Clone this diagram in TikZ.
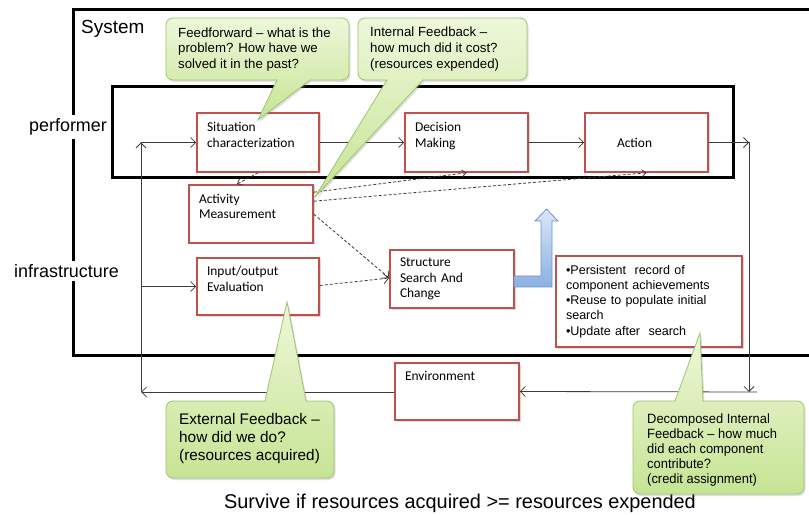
\documentclass[tikz,border=0pt]{standalone}
\usepackage{fontspec}
\setmainfont{Liberation Sans}
\newfontfamily\boxfont{Carlito}
\newfontfamily\narrowfont[FakeStretch=0.96]{Liberation Sans}
\usetikzlibrary{arrows.meta,shadows,calc}
\definecolor{boxred}{RGB}{192,80,77}
\definecolor{cgTop}{RGB}{238,247,218}
\definecolor{cgBot}{RGB}{198,228,148}
\definecolor{cgLine}{RGB}{158,196,108}
\definecolor{blTop}{RGB}{218,230,247}
\definecolor{blBot}{RGB}{138,176,226}
\definecolor{blLine}{RGB}{112,148,202}
\definecolor{lineGray}{RGB}{60,60,60}
\tikzset{
 rbox/.style={draw=boxred, line width=1.6bp, fill=white, align=left, inner xsep=10bp, inner ysep=0pt,
   font=\boxfont\fontsize{13.5}{15.5}\selectfont,
   drop shadow={shadow xshift=1.5bp, shadow yshift=-1.5bp, opacity=0.3}},
 conn/.style={draw=lineGray, line width=0.8bp},
 arr/.style={-{Straight Barb[length=5bp,width=10bp]}},
 sarr/.style={-{Straight Barb[length=4bp,width=7bp]}},
 dashc/.style={draw=lineGray, line width=0.8bp, dash pattern=on 3bp off 2bp},
 framebox/.style={line width=3bp, draw=black},
 bubble/.style={draw=cgLine, line width=0.8bp, top color=cgTop, bottom color=cgBot,
   drop shadow={shadow xshift=1.5bp, shadow yshift=-2bp, opacity=0.25}},
 ctext/.style={align=left, inner sep=0pt, anchor=west, text=black},
 lab/.style={font=\fontsize{18}{20}\selectfont, fill=white, inner sep=4bp},
 bluearrow/.style={draw=blLine, line width=0.8bp, top color=blTop, bottom color=blBot},
}
\begin{document}
\begin{tikzpicture}[x=1bp,y=-1bp]
\useasboundingbox (0,0) rectangle (809,515);
\fill[white] (0,0) rectangle (809,515);

% frames
\draw[framebox] (809,10) -- (73,10) -- (73,355) -- (809,355);
\draw[framebox] (112,87) rectangle (733,178);

% labels
\node[anchor=west, inner sep=0pt, font=\fontsize{19}{21}\selectfont] (sys) at (81,29) {System};
\node[lab] (perf) at (68,127) {performer};
\node[lab, inner sep=3bp] (infra) at (66.5,271) {infrastructure};
\node[font=\fontsize{20}{22}\selectfont] (surv) at (460,503) {Survive if resources acquired >= resources expended};

% boxes
\node[rbox, text width=102bp, minimum height=59bp] (sit) at (258,142.5) {Situation\\characterization\\~};
\node[rbox, text width=103bp, minimum height=59bp] (dec) at (466.5,142.5) {Decision\\Making\\~};
\node[rbox, text width=103bp, minimum height=59bp] (act) at (646.5,142.5) {\hspace*{22bp}Action};
\node[rbox, text width=104bp, minimum height=58bp] (actm) at (251,214) {Activity\\Measurement\\~};
\node[rbox, text width=102bp, minimum height=57bp] (io) at (258,286.5) {Input/output\\Evaluation\\~};
\node[rbox, text width=104bp, minimum height=58bp] (ssc) at (452,279) {Structure\\Search And\\Change};
\node[rbox, text width=166bp, minimum height=91bp, font=\fontsize{12.6}{15.2}\selectfont] (bul) at (649,301.5)
  {•Persistent\ \ record of\\component achievements\\•Reuse to populate initial\\search\\•Update after\ \ search};
\node[rbox, text width=104bp, minimum height=57bp] (env) at (457,391.5) {Environment\\~\\~};

% main flow
\draw[conn,arr] (sit) -- (dec);
\draw[conn,arr] (dec) -- (act);

% outer loop
\coordinate (rt) at (749,142.5);
\coordinate (rb) at (749,392);
\coordinate (re) at (757,392);
\coordinate (lb) at (141,392);
\coordinate (lt) at (141,142.5);
\coordinate (li) at (141,286.5);
\draw[conn,arr] (act.east) -- (rt);
\draw[conn,arr] (rt) -- (rb);
\draw[conn,arr] (re) -- (env.east);
\draw[conn,arr] (env.west |- lb) -- (lb);
\draw[conn,arr] (lb) -- (lt);
\draw[conn,arr] (lt) -- (sit.west);
\draw[conn,arr] (li) -- (io.west);

% dashed measurement links
\draw[dashc,sarr] (sit.south) -- ($(actm.north)+(-14,0)$);
\draw[dashc,sarr] ($(actm.north east)+(0,8)$) -- (dec.south);
\draw[dashc,sarr] ($(actm.north east)+(0,17)$) -- (act.south);
\draw[dashc,arr] ($(actm.north east)+(0,30)$) -- ($(ssc.west)+(0,-1)$);
\draw[dashc,arr] ($(io.east)+(0,-1)$) -- ($(ssc.west)+(0,-1)$);

% blue bent arrow
\path[bluearrow] (514,276) -- (541,276) -- (541,221) -- (535,221) -- (546.5,209) -- (558,221)
  -- (552,221) -- (552,287) -- (514,287) -- cycle;

% callouts
\path[bubble] (166,50) [rounded corners=7bp] -- (166,18) -- (349,18) -- (349,80) -- (325,80)
  [sharp corners] -- (310,80) -- (258,120) -- (277,80) -- (250,80) [rounded corners=7bp] -- (166,80) -- cycle;
\node[ctext, font=\fontsize{13.3}{15.7}\selectfont] (ff) at (178,49.5)
  {Feedforward – what is the\\problem? How have we\\solved it in the past?};

\path[bubble] (358,50) [rounded corners=7bp] -- (358,18) -- (527,18) -- (527,80) -- (440,80)
  [sharp corners] -- (423,80) -- (315,197) -- (387,80) -- (378,80) [rounded corners=7bp] -- (358,80) -- cycle;
\node[ctext, font=\fontsize{13.3}{15.7}\selectfont] (intf) at (370,49)
  {Internal Feedback –\\how much did it cost?\\(resources expended)};

\path[bubble] (166,440) [rounded corners=7bp] -- (166,401) -- (240,401) [sharp corners] -- (265,401)
  -- (287,302) -- (306,401) -- (320,401) [rounded corners=7bp] -- (334,401) -- (334,478) -- (166,478) -- cycle;
\node[ctext, font=\fontsize{15.4}{18.5}\selectfont] (extf) at (179,438.5)
  {External Feedback –\\how did we do?\\(resources acquired)};

\path[bubble] (633,440) [rounded corners=7bp] -- (633,401) -- (660,401) [sharp corners] -- (675,401)
  -- (700,333) -- (703,401) -- (720,401) [rounded corners=7bp] -- (804,401) -- (804,494) -- (633,494) -- cycle;
\node[ctext, font=\narrowfont\fontsize{13.5}{15}\selectfont] (decf) at (647,450)
  {Decomposed Internal\\Feedback – how much\\did each component\\contribute?\\(credit assignment)};
\end{tikzpicture}
\end{document}
